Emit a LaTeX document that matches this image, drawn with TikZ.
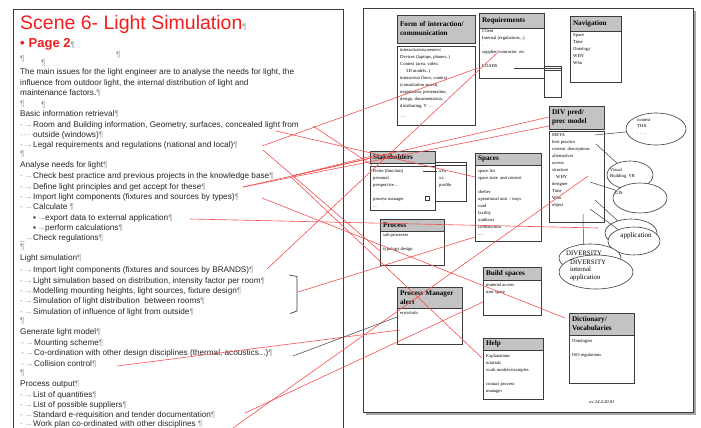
\documentclass[tikz,border=0pt]{standalone}
\usepackage{fontspec}
\setmainfont{Liberation Serif}
\setsansfont{Liberation Sans}
\usetikzlibrary{shapes.geometric}
\definecolor{pm}{RGB}{150,150,150}
\definecolor{ttl}{RGB}{240,30,30}
\definecolor{rl}{RGB}{245,80,80}
\definecolor{hg}{RGB}{195,195,195}
\definecolor{bl}{RGB}{60,60,60}
\newcommand\pmk{{\color{pm}¶}}
\newcommand\tb{\makebox[13pt][l]{\color{pm}-\,→}}
\newcommand\sq{\makebox[12pt][l]{▪\,{\color{pm}→}}}
\tikzset{
 lt/.style={anchor=base west, inner sep=0pt, font=\sffamily\fontsize{8.2}{10}\selectfont, text=black!85},
 hdr/.style={draw=bl, fill=hg, line width=0.7pt, anchor=north west, inner xsep=3pt, inner ysep=0pt, outer sep=0pt, font=\rmfamily\bfseries\fontsize{7.2}{9}\selectfont, align=left},
 bdy/.style={draw=bl, fill=white, line width=0.7pt, anchor=north west, inner sep=0pt, outer sep=0pt},
 btx/.style={anchor=north west, inner sep=0pt, font=\rmfamily\fontsize{4.6}{7}\selectfont, align=left},
 con/.style={draw=rl, line width=0.6pt},
 blk/.style={draw=bl, line width=0.5pt},
 ell/.style={draw=bl, fill=white, ellipse, line width=0.6pt, inner sep=0pt},
 etx/.style={inner sep=0pt, font=\rmfamily\fontsize{4.6}{6}\selectfont, align=left}
}
\begin{document}
\begin{tikzpicture}[x=1pt,y=-1pt]
\useasboundingbox (0,0) rectangle (701,428);
\clip (0,0) rectangle (701,428);
\fill[white] (0,0) rectangle (701,428);
% left page
\draw[bl, line width=0.8pt] (13,9) rectangle (343,440);
\node[anchor=base west, inner sep=0pt, font=\sffamily\fontsize{19.5}{20}\selectfont, text=ttl] (title) at (20,30) {Scene 6- Light Simulation{\fontsize{8}{8}\selectfont\color{pm}¶}};
\node[anchor=base west, inner sep=0pt, font=\sffamily\bfseries\fontsize{13}{14}\selectfont, text=ttl] (page) at (20,48) {•\hspace{4pt}Page 2{\mdseries\fontsize{8}{8}\selectfont\color{pm}¶}};
\node[lt] (p0) at (20,62) {\pmk};
\node[lt] (p00) at (116,57) {\pmk};
\node[lt] (pc1) at (41,66) {\pmk};
\node[lt] (pc2) at (41,107) {\pmk};
\node[lt] (a1) at (20,74.5) {The main issues for the light engineer are to analyse the needs for light, the};
\node[lt] (a2) at (20,85) {influence from outdoor light, the internal distribution of light and};
\node[lt] (a3) at (20,95.5) {maintenance factors.\pmk};
\node[lt] (a4) at (20,106) {\pmk};
\node[lt] (a5) at (20,116) {Basic information retrieval\pmk};
\node[lt] (a6) at (20,127.5) {\tb Room and Building information, Geometry, surfaces, concealed light from};
\node[lt] (a7) at (20,137.5) {\makebox[13pt][l]{\color{pm}·····}outside (windows)\pmk};
\node[lt] (a8) at (20,147.5) {\tb Legal requirements and regulations (national and local)\pmk};
\node[lt] (a9) at (20,156.5) {\pmk};
\node[lt] (a10) at (20,167.5) {Analyse needs for light\pmk};
\node[lt] (a11) at (20,178.5) {\tb Check best practice and previous projects in the knowledge base\pmk};
\node[lt] (a12) at (20,189) {\tb Define light principles and get accept for these\pmk};
\node[lt] (a13) at (20,199.5) {\tb Import light components (fixtures and sources by types)\pmk};
\node[lt] (a14) at (20,209.5) {\tb Calculate \pmk};
\node[lt] (a15) at (33,220.5) {\sq export data to external application\pmk};
\node[lt] (a16) at (33,230.5) {\sq perform calculations\pmk};
\node[lt] (a17) at (20,240.5) {\makebox[13pt][l]{\color{pm}\_→}Check regulations\pmk};
\node[lt] (a18) at (20,249.5) {\pmk};
\node[lt] (a19) at (20,260.5) {Light simulation\pmk};
\node[lt] (a20) at (20,272) {\tb Import light components (fixtures and sources by BRANDS)\pmk};
\node[lt] (a21) at (20,283) {\tb Light simulation based on distribution, intensity factor per room\pmk};
\node[lt] (a22) at (20,293.5) {\tb Modelling mounting heights, light sources, fixture design\pmk};
\node[lt] (a23) at (20,303.5) {\tb Simulation of light distribution \ between rooms\pmk};
\node[lt] (a24) at (20,314) {\tb Simulation of influence of light from outside\pmk};
\node[lt] (a25) at (20,323.5) {\pmk};
\node[lt] (a26) at (20,334.5) {Generate light model\pmk};
\node[lt] (a27) at (21,345) {\tb Mounting scheme\pmk};
\node[lt] (a28) at (21,355.5) {\tb Co-ordination with other design disciplines (thermal, acoustics...)\pmk};
\node[lt] (a29) at (21,366) {\tb Collision control\pmk};
\node[lt] (a30) at (20,375.5) {\pmk};
\node[lt] (a31) at (20,386.5) {Process output\pmk};
\node[lt] (a32) at (20,397.5) {\tb List of quantities\pmk};
\node[lt] (a33) at (20,407.5) {\tb List of possible suppliers\pmk};
\node[lt] (a34) at (20,417.5) {\tb Standard e-requisition and tender documentation\pmk};
\node[lt] (a35) at (20,426.5) {\tb Work plan co-ordinated with other disciplines \pmk};
\draw[bl, line width=0.7pt] (289,275) -- (297,276.5) -- (297,311) -- (290,313.5);
% right page
\fill[gray!70] (366,11) rectangle (696,415);
\draw[bl, line width=0.8pt, fill=white] (363,8) rectangle (693,412);
% Form of interaction
\node[hdr, minimum width=78pt, minimum height=28pt, text width=72pt] (formH) at (397,15) {Form of interaction/\\communication};
\node[bdy, minimum width=78pt, minimum height=79pt] (formB) at (397,46) {};
\node[btx] (formT) at (400,48.5) {interaction/awareness/\\Devices (laptops, phones..)\\Context (area, video,\\\hspace{6pt}3D models..)\\interaction flows, context\\(consultation search,\\negotiation, presentation,\\design, documentation,\\distributing, V \ ...\\[3pt]\ ...};
% Requirements
\node[bdy, minimum width=17pt, minimum height=31pt] (winB) at (544,66) {};
\draw[bl, line width=0.5pt] (winB.north west) ++(0,2.5) -- ++(17,0) ++(0,2) -- ++(-17,0);
\node[hdr, minimum width=65pt, minimum height=15pt, text width=59pt] (reqH) at (479,13) {Requirements};
\node[bdy, minimum width=65pt, minimum height=50pt] (reqB) at (479,28) {};
\node[btx] (reqT) at (482,29) {Client\\Internal (regulations,..)\\.\\supplier/contractor \ etc\\.\\LOADS};
\coordinate (ldA) at (514,68);
\draw[bl, line width=0.6pt] (ldA) -- (ldA -| reqB.east);
% Navigation
\node[hdr, minimum width=51pt, minimum height=15pt, text width=45pt] (navH) at (570,16) {Navigation};
\node[bdy, minimum width=51pt, minimum height=51pt] (navB) at (570,31) {};
\node[btx] (navT) at (573,33) {Space\\Time\\Ontology\\WHY\\Who};
% DIV pred
\node[hdr, minimum width=55pt, minimum height=23pt, text width=49pt] (divH) at (549,106) {DIV pred/\\prec model};
\node[bdy, minimum width=55pt, minimum height=91pt] (divB) at (549,131) {};
\node[btx] (divT) at (552,133.5) {META\\best practice\\current \ descriptions\\alternatives\\access\\structure\\\hspace{4pt}WHY\\designer\\Time\\Who\\object};
% Stakeholders
\node[bdy, minimum width=31pt, minimum height=39pt] (sideB) at (435,162) {};
\draw[bl, line width=0.5pt] (sideB.north west) ++(0,3) -- ++(31,0);
\node[btx] (sideT) at (439,170) {xxx\\xx\\profile};
\node[hdr, minimum width=65pt, minimum height=12pt, text width=59pt] (stkH) at (370,151) {Stakeholders};
\node[bdy, minimum width=65pt, minimum height=44pt] (stkB) at (370,166) {};
\node[btx] (stkT) at (373,169) {Roles (function)\\personal\\perspective ...\\~\\process manager\\...};
\draw[bl, line width=0.5pt] (423,171) -- (437,171);
\node[draw=bl, line width=0.4pt, minimum size=3.5pt, inner sep=0pt] (stkSq) at (427,198) {};
% Spaces
\node[hdr, minimum width=66pt, minimum height=12pt, text width=60pt] (spcH) at (475,153) {Spaces};
\node[bdy, minimum width=66pt, minimum height=76pt] (spcB) at (475,165) {};
\node[btx] (spcT) at (478,169) {space list\\space state \ and context\\~\\shelter\\operational unit \ / stays\\road\\facility\\outdoors\\construction\\....};
% Process
\node[hdr, minimum width=64pt, minimum height=12pt, text width=58pt] (prcH) at (380,219) {Process};
\node[bdy, minimum width=64pt, minimum height=34pt] (prcB) at (380,231) {};
\node[btx] (prcT) at (383,233) {sub processes\\~\\typology design};
% Build spaces
\node[hdr, minimum width=58pt, minimum height=13pt, text width=52pt] (bldH) at (483,267) {Build spaces};
\node[bdy, minimum width=58pt, minimum height=35pt] (bldB) at (483,280) {};
\node[btx] (bldT) at (486,283) {material access\\user space};
% Process Manager alert
\node[hdr, minimum width=65pt, minimum height=21pt, text width=59pt] (pmaH) at (397,287) {Process Manager\\alert};
\node[bdy, minimum width=65pt, minimum height=36pt] (pmaB) at (397,308) {};
\node[btx] (pmaT) at (400,311) {error/info};
% Help
\node[hdr, minimum width=60pt, minimum height=12pt, text width=54pt] (hlpH) at (483,338) {Help};
\node[bdy, minimum width=60pt, minimum height=49pt] (hlpB) at (483,350) {};
\node[btx] (hlpT) at (486,354) {Explanations\\tutorials\\work models/examples\\~\\contact process\\manager};
% Dictionary
\node[hdr, minimum width=65pt, minimum height=22pt, text width=59pt] (dicH) at (569,313) {Dictionary/\\Vocabularies};
\node[bdy, minimum width=65pt, minimum height=48pt] (dicB) at (569,335) {};
\node[btx] (dicT) at (572,339) {Ontologies\\~\\ISO regulations};
\node[inner sep=0pt, font=\rmfamily\itshape\fontsize{4.6}{5}\selectfont] (foot) at (602,402) {ac 24.4.20.01};
% ellipses
\node[ell, minimum width=60pt, minimum height=32pt] (ctx) at (656,129) {};
\node[etx, anchor=north west] (ctxT) at (637,119) {context\\THX\\[1pt]. . . .};
\node[ell, minimum width=46pt, minimum height=28pt] (vis) at (630,175) {};
\node[etx, anchor=north west] (visT) at (610,168) {Visual\\Building \ VR};
\node[ell, minimum width=54pt, minimum height=30pt] (gis) at (640,198) {};
\node[etx, anchor=north west] (gisT) at (615,191) {GIS};
\node[ell, minimum width=52pt, minimum height=28pt] (app1) at (631,233) {};
\node[ell, minimum width=52pt, minimum height=28pt] (app2) at (634,241) {};
\node[inner sep=0pt, font=\rmfamily\fontsize{7}{8}\selectfont] (appT) at (636,236) {application};
\node[ell, minimum width=62pt, minimum height=28pt] (dv1) at (590,258) {};
\node[inner sep=0pt, anchor=west, font=\rmfamily\fontsize{6.8}{8}\selectfont] (dv1T) at (566,253) {DIVERSITY};
\node[ell, minimum width=74pt, minimum height=34pt] (dv2) at (596,272) {};
\node[inner sep=0pt, anchor=north west, align=left, font=\rmfamily\fontsize{6.8}{7.5}\selectfont] (dv2T) at (570,259.5) {DIVERSITY\\internal\\application};
% black connectors from DIV model
\coordinate (k1) at (595,135);
\coordinate (k2) at (596,144);
\coordinate (k3) at (590,182);
\coordinate (k4) at (595,200);
\coordinate (k5) at (590,209);
\coordinate (k6) at (583,214);
\draw[blk] (k1) -- (ctx);
\draw[blk] (k2) -- (vis);
\draw[blk] (k3) -- (gis);
\draw[blk] (k4) -- (app1);
\draw[blk] (k5) -- (app2);
\draw[blk] (k6) -- (dv1.115);
% red connectors
\foreach \i/\a/\b in {
 1/{262,146}/{478,68},
 2/{267,269}/{497,53},
 3/{291,177}/{482,358},
 4/{263,150}/{381,252},
 5/{262,198}/{565,318},
 6/{190,219}/{598,228},
 7/{245,413}/{483,302},
 8/{233,428}/{588,176},
 9/{117,366}/{400,330},
 10/{298,292}/{475,237},
 11/{292,176}/{549,117},
 12/{243,187}/{549,126},
 13/{243,187}/{372,158},
 14/{292,176}/{372,156},
 15/{313,126}/{372,165},
 16/{276,131}/{475,177}}{
 \coordinate (rs\i) at (\a);
 \coordinate (re\i) at (\b);
 \draw[con] (rs\i) -- (re\i);
}
\coordinate (bs) at (293,356);
\coordinate (be) at (397,317);
\draw[blk] (bs) -- (be);
\end{tikzpicture}
\end{document}
